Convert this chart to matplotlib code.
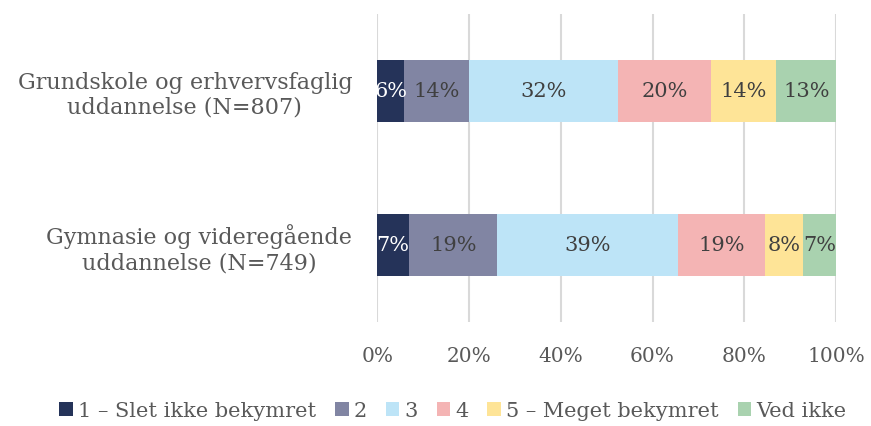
import matplotlib.pyplot as plt
import numpy as np

plt.rcParams['font.family'] = ['DejaVu Serif']

categories = ['Grundskole og erhvervsfaglig\nuddannelse (N=807)',
              'Gymnasie og videregående\nuddannelse (N=749)']
series = ['1 – Slet ikke bekymret', '2', '3', '4', '5 – Meget bekymret', 'Ved ikke']
values = [
    [5.9, 7.0],    # 1
    [14.2, 19.2],  # 2
    [32.4, 39.3],  # 3
    [20.3, 19.1],  # 4
    [14.2, 8.2],   # 5
    [13.0, 7.2],   # ved ikke
]
labels = [
    ['6%', '7%'],
    ['14%', '19%'],
    ['32%', '39%'],
    ['20%', '19%'],
    ['14%', '8%'],
    ['13%', '7%'],
]
colors = ['#253359', '#8185A3', '#BDE4F7', '#F4B4B4', '#FEE497', '#A9D2AF']
text_colors = ['white', '#404040', '#404040', '#404040', '#404040', '#404040']

fig = plt.figure(figsize=(8.71, 4.26), dpi=100)
ax = fig.add_axes([0.433, 0.244, 0.527, 0.723])

y = np.arange(len(categories))
left = np.zeros(len(categories))
for i, s in enumerate(series):
    v = np.array(values[i])
    bars = ax.barh(y, v, left=left, height=0.40, color=colors[i], label=s, zorder=3)
    for j, b in enumerate(bars):
        ax.text(left[j] + v[j] / 2, y[j], labels[i][j], ha='center', va='center',
                fontsize=15, color=text_colors[i], zorder=4)
    left += v

ax.set_xlim(0, 100)
ax.set_ylim(1.5, -0.5)
ax.set_yticks(y)
ax.set_yticklabels(categories, fontsize=16, color='#595959', ha='right',
                   multialignment='center', linespacing=1.2)
ax.tick_params(axis='y', length=0, pad=18)
ax.set_xticks(np.arange(0, 101, 20))
ax.set_xticklabels([f'{t}%' for t in range(0, 101, 20)], fontsize=14.5, color='#595959')
ax.tick_params(axis='x', length=0, pad=18)
ax.grid(axis='x', color='#D9D9D9', linewidth=1.5, zorder=0)
for sp in ax.spines.values():
    sp.set_visible(False)

fig.legend(loc='center', bbox_to_anchor=(0.52, 0.035), ncol=6, frameon=False,
           fontsize=15, labelcolor='#595959', handlelength=0.65, handleheight=0.65,
           handletextpad=0.25, columnspacing=0.9)

fig.savefig('out.png', dpi=100)
